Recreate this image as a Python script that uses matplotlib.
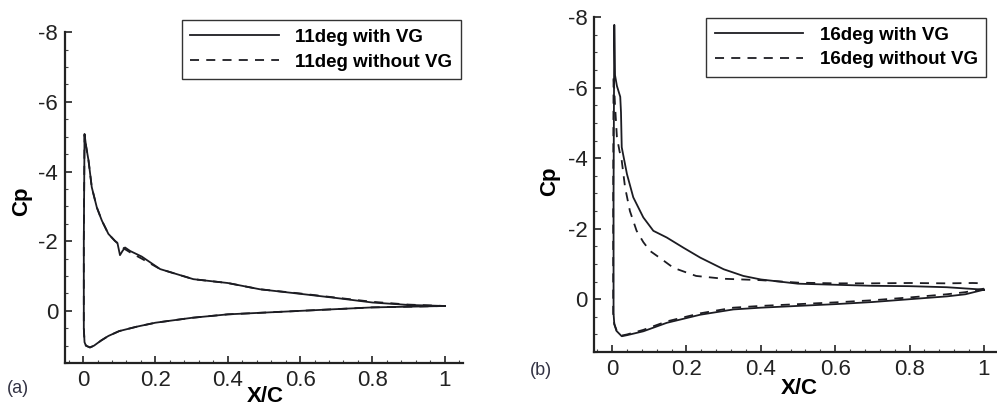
import numpy as np
import matplotlib.pyplot as plt
from matplotlib.ticker import MultipleLocator

plt.rcParams['font.family'] = ['Liberation Sans', 'DejaVu Sans']
plt.rcParams['axes.unicode_minus'] = False

# ---- (a) 11 deg : loop lower surface TE -> LE, then upper surface LE -> TE
x_11_vg = [1.0, 0.9, 0.8, 0.7, 0.6, 0.5, 0.4, 0.3, 0.2, 0.15, 0.1, 0.07, 0.05, 0.03, 0.019, 0.008, 0.004, 0.002,
           0.002, 0.004, 0.008, 0.015, 0.024, 0.038, 0.052, 0.07, 0.088, 0.095, 0.102, 0.109, 0.116, 0.13,
           0.162, 0.213, 0.305, 0.4, 0.489, 0.6, 0.7, 0.8, 0.9, 1.0]
cp_11_vg = [-0.14, -0.12, -0.10, -0.05, 0.0, 0.05, 0.10, 0.2, 0.34, 0.45, 0.58, 0.72, 0.85, 1.0, 1.05, 1.0, 0.9, 0.5,
            -2.0, -5.08, -4.75, -4.32, -3.55, -2.97, -2.59, -2.21, -2.01, -1.95, -1.6, -1.72, -1.82, -1.72,
            -1.56, -1.2, -0.91, -0.8, -0.62, -0.49, -0.37, -0.24, -0.17, -0.14]
x_11_no = [1.0, 0.9, 0.8, 0.7, 0.6, 0.5, 0.4, 0.3, 0.2, 0.15, 0.1, 0.07, 0.05, 0.03, 0.019, 0.008, 0.004, 0.002,
           0.002, 0.004, 0.008, 0.015, 0.024, 0.038, 0.052, 0.07, 0.088, 0.102, 0.116, 0.13,
           0.162, 0.213, 0.305, 0.4, 0.489, 0.6, 0.7, 0.8, 0.9, 1.0]
cp_11_no = [-0.14, -0.12, -0.10, -0.05, 0.0, 0.05, 0.10, 0.2, 0.34, 0.45, 0.58, 0.72, 0.85, 1.0, 1.05, 1.0, 0.9, 0.5,
            -2.0, -5.05, -4.75, -4.32, -3.55, -2.97, -2.59, -2.21, -2.01, -1.88, -1.77, -1.68,
            -1.5, -1.2, -0.91, -0.8, -0.62, -0.5, -0.38, -0.26, -0.18, -0.14]

# ---- (b) 16 deg
x_16_vg = [1.0, 0.95, 0.9, 0.8, 0.7, 0.6, 0.5, 0.4, 0.326, 0.237, 0.147, 0.084, 0.04, 0.026, 0.012, 0.006, 0.004,
           0.004, 0.006, 0.008, 0.013, 0.022, 0.024, 0.026, 0.04, 0.057, 0.084, 0.111, 0.147, 0.192, 0.237, 0.3,
           0.353, 0.4, 0.5, 0.6, 0.7, 0.8, 0.9, 1.0]
cp_16_vg = [-0.27, -0.14, -0.08, 0.0, 0.08, 0.14, 0.19, 0.24, 0.29, 0.44, 0.67, 0.91, 1.02, 1.05, 0.9, 0.71, 0.4,
            -3.0, -7.78, -6.35, -6.05, -5.74, -5.3, -4.31, -3.55, -2.89, -2.32, -1.94, -1.75, -1.46, -1.18, -0.85,
            -0.66, -0.56, -0.44, -0.41, -0.38, -0.37, -0.34, -0.27]
x_16_no = [1.0, 0.95, 0.9, 0.8, 0.7, 0.6, 0.5, 0.4, 0.326, 0.237, 0.147, 0.084, 0.04, 0.026, 0.012, 0.006, 0.003,
           0.003, 0.004, 0.008, 0.013, 0.02, 0.026, 0.035, 0.048, 0.066, 0.084, 0.102, 0.134, 0.165, 0.226, 0.3, 0.35,
           0.4, 0.5, 0.6, 0.7, 0.8, 0.9, 0.97, 1.0]
cp_16_no = [-0.3, -0.2, -0.14, -0.05, 0.03, 0.09, 0.14, 0.19, 0.24, 0.4, 0.63, 0.87, 1.0, 1.03, 0.88, 0.7, 0.4,
            -3.0, -6.35, -5.5, -4.6, -4.2, -3.93, -3.17, -2.5, -1.94, -1.62, -1.37, -1.13, -0.89, -0.66, -0.58, -0.56,
            -0.54, -0.47, -0.45, -0.45, -0.46, -0.45, -0.46, -0.45]

xticks = [0, 0.2, 0.4, 0.6, 0.8, 1]
xticklabels = ['0', '0.2', '0.4', '0.6', '0.8', '1']
yticks = [-8, -6, -4, -2, 0]

fig = plt.figure(figsize=(9.97, 4.08), dpi=100)
axa = fig.add_axes([0.0652, 0.110, 0.399, 0.811])
axb = fig.add_axes([0.596, 0.137, 0.404, 0.821])

lc = '#1c1c22'
panels = [
    (axa, x_11_vg, cp_11_vg, x_11_no, cp_11_no, '11deg', (-0.05, 1.05), (0.995, 1.036), (-0.083, 0.49), (0.503, -0.069)),
    (axb, x_16_vg, cp_16_vg, x_16_no, cp_16_no, '16deg', (-0.048, 1.035), (0.973, 0.997), (-0.084, 0.51), (0.509, -0.078)),
]
for ax, xv, cv, xn, cn, ang, xl, leg_anchor, ylc, xlc in panels:
    l1, = ax.plot(xv, cv, color=lc, lw=1.3, label=ang + ' with VG')
    l2, = ax.plot(xn, cn, color=lc, lw=1.3, dashes=(5, 4), label=ang + ' without VG')
    ax.set_xlim(*xl)
    ax.set_ylim(1.5, -8)
    ax.set_xticks(xticks)
    ax.set_xticklabels(xticklabels)
    ax.set_yticks(yticks)
    ax.xaxis.set_minor_locator(MultipleLocator(0.04))
    ax.yaxis.set_minor_locator(MultipleLocator(0.5))
    ax.tick_params(which='major', direction='in', length=5, width=1.2, labelsize=16, colors='#222222', pad=5)
    ax.tick_params(which='minor', direction='in', length=2.5, width=0.8, colors='#444444')
    ax.spines['top'].set_visible(False)
    ax.spines['right'].set_visible(False)
    for s in ('left', 'bottom'):
        ax.spines[s].set_linewidth(1.6)
        ax.spines[s].set_color('#222222')
    ax.set_ylabel('Cp', fontsize=16, fontweight='bold')
    ax.set_xlabel('X/C', fontsize=16, fontweight='bold')
    ax.yaxis.set_label_coords(*ylc)
    ax.xaxis.set_label_coords(*xlc)
    leg = ax.legend(handles=[l1, l2], loc='upper right', bbox_to_anchor=leg_anchor,
                    prop={'size': 13.5, 'weight': 'bold'}, handlelength=4.7, handletextpad=0.9,
                    fancybox=False, framealpha=1, edgecolor='#333333', borderpad=0.45,
                    labelspacing=0.4, borderaxespad=0)
    leg.get_frame().set_linewidth(1.0)

fig.text(0.018, 0.049, '(a)', fontsize=13, color='#333344', ha='center', va='center')
fig.text(0.543, 0.093, '(b)', fontsize=13, color='#333344', ha='center', va='center')

fig.savefig('out.png', dpi=100)
